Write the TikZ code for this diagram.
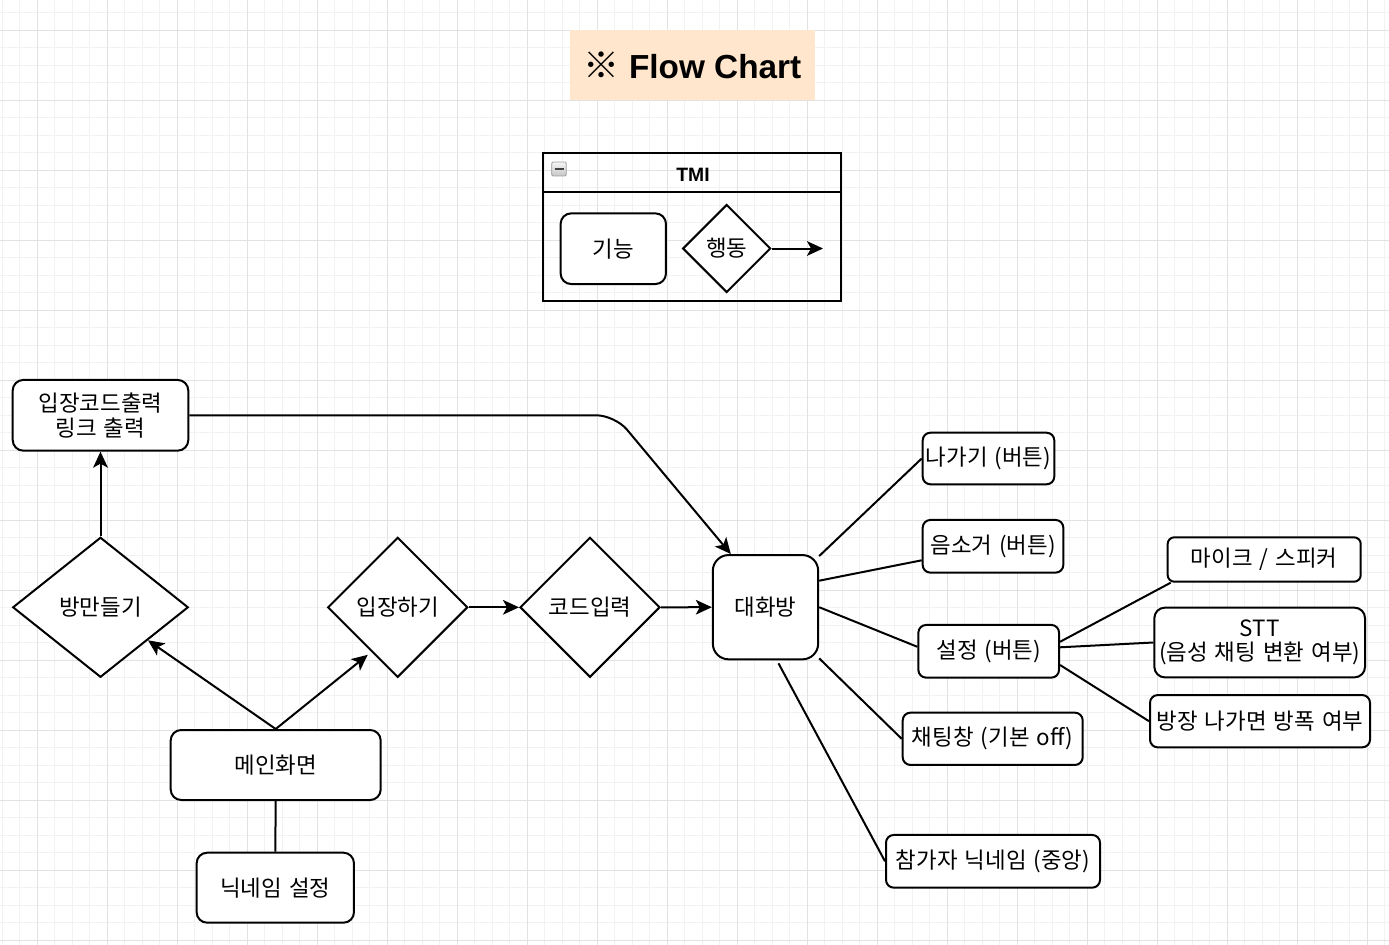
\documentclass[tikz,border=0pt]{standalone}
\usepackage{fontspec}
\setmainfont{Liberation Sans}
\newfontfamily\kr[WordSpace=1.4]{Noto Sans CJK KR}
\usetikzlibrary{shapes.geometric,arrows.meta,calc}
\definecolor{gridminor}{HTML}{F2F2F2}
\definecolor{gridmajor}{HTML}{E2E2E2}
\definecolor{titlefill}{HTML}{FFE6CC}
\begin{document}
\begin{tikzpicture}[x=0.75pt,y=-0.75pt,
  txt/.style={font=\kr\fontsize{16.8pt}{18.5pt}\selectfont, align=center},
  box/.style={txt, draw=black, line width=1.5pt, fill=white, rounded corners=#1, inner sep=0pt},
  box/.default=7.9pt,
  dia/.style={txt, draw=black, line width=1.5pt, fill=white, shape=diamond, inner sep=0pt},
  conn/.style={draw=black, line width=1.5pt},
  arr/.style={conn, -{Stealth[length=12pt,width=11pt,inset=3pt]}}
]
% background and grid
\fill[white] (0,0) rectangle (1389,945);
\useasboundingbox (0,0) rectangle (1389,945);
\foreach \x in {2,19.5,...,1389} \draw[gridminor, line width=0.75pt] (\x,0) -- (\x,945);
\foreach \y in {12.8,30.3,...,945} \draw[gridminor, line width=0.75pt] (0,\y) -- (1389,\y);
\foreach \x in {37,107,...,1389} \draw[gridmajor, line width=0.75pt] (\x,0) -- (\x,945);
\foreach \y in {30.3,100.3,...,945} \draw[gridmajor, line width=0.75pt] (0,\y) -- (1389,\y);

% title
\node[fill=titlefill, minimum width=183.75pt, minimum height=52.5pt, inner sep=0pt,
      font=\bfseries\fontsize{25pt}{30pt}\selectfont] (title) at (692.5,65) {{\kr\mdseries\fontsize{27pt}{30pt}\selectfont ※}\ Flow Chart};

% legend
\node[draw=black, line width=1.5pt, minimum width=223.5pt, minimum height=111pt, inner sep=0pt] (tmi) at (692,227) {};
\draw[conn] ($(tmi.north west)+(0,40)$) -- ($(tmi.north east)+(0,40)$);
\node[font=\bfseries\fontsize{14.5pt}{17pt}\selectfont] (tmitxt) at (693,175) {TMI};
\node[draw=gray!75, line width=0.6pt, rounded corners=1pt, minimum width=11pt, minimum height=10.5pt, inner sep=0pt,
      top color=gray!8, bottom color=gray!45] (ic) at (559,169) {};
\draw[black!75, line width=1.6pt] ($(ic.center)+(-4.5,0)$) -- ($(ic.center)+(4.5,0)$);
\node[box, minimum width=79pt, minimum height=53pt] (fn) at (613.3,248.7) {기능};
\node[dia, minimum width=66pt, minimum height=66pt] (act) at (726.7,248.5) {행동};
\coordinate (actend) at (823,248.5);
\draw[arr] (act.east) -- (actend);

% left part
\node[box, minimum width=131.7pt, minimum height=53pt] (out) at (100.5,415.3) {입장코드출력\\링크 출력};
\node[dia, minimum width=131.7pt, minimum height=105pt] (make) at (100.5,607.3) {방만들기};
\node[dia, minimum width=105pt, minimum height=105pt] (enter) at (397.7,607.3) {입장하기};
\node[dia, minimum width=105pt, minimum height=105pt] (code) at (590,607.3) {코드입력};
\node[box=11.8pt, minimum width=79pt, minimum height=78.2pt] (room) at (765.5,607.2) {대화방};
\node[box, minimum width=157.5pt, minimum height=52.5pt] (main) at (275.7,765) {메인화면};
\node[box, minimum width=118pt, minimum height=52.5pt] (nick) at (275.3,887.7) {닉네임 설정};

% right part
\node[box=5.8pt, minimum width=98.7pt, minimum height=38.7pt] (exit) at (988.5,458.5) {나가기 (버튼)};
\node[box=5.8pt, minimum width=105.5pt, minimum height=39.5pt] (mute) at (993,546.3) {음소거 (버튼)};
\node[box=5.8pt, minimum width=105.5pt, minimum height=39.5pt] (set) at (988.7,651.3) {설정 (버튼)};
\node[box=5.8pt, minimum width=135pt, minimum height=39.2pt] (chat) at (992.7,738.8) {채팅창 (기본 off)};
\node[box=5.8pt, minimum width=160.5pt, minimum height=39.5pt] (part) at (993,861.3) {참가자 닉네임 (중앙)};
\node[box=5pt, minimum width=144.8pt, minimum height=33.3pt] (mic) at (1264.2,559.5) {마이크 / 스피커};
\node[box, minimum width=158pt, minimum height=52.3pt] (stt) at (1259.7,642.5) {STT\\(음성 채팅 변환 여부)};
\node[box=5.8pt, minimum width=165pt, minimum height=39.2pt] (boom) at (1260,721.2) {방장 나가면 방폭 여부};

% connectors
\draw[arr] (make.north) -- (out.south);
\draw[arr] (main.north) -- (make);
\draw[arr] (main.north) -- ($(enter.south west)+(5.6,12)$);
\draw[conn] (main.south) -- (nick.north);
\draw[arr] (enter.east) -- (code.west);
\draw[arr] (code.east) -- (room.west);
\draw[arr, rounded corners=14pt] (out.east) -- ++(425.7,0) -- ($(room.north west)+(19,0)$);
\draw[conn] ($(room.north east)+(0,2)$) -- (exit.west);
\draw[conn] ($(room.east)+(0,-26.5)$) -- ($(mute.west)+(0,14)$);
\draw[conn] (room.east) -- ($(set.west)+(0,-4.5)$);
\draw[conn] ($(room.south east)+(0,-2)$) -- (chat.west);
\draw[conn] ($(room.south)+(13,3)$) -- (part.west);
\draw[conn] ($(set.east)+(0,-9.5)$) -- ($(mic.south west)+(4,0)$);
\draw[conn] ($(set.east)+(0,-4)$) -- (stt.west);
\draw[conn] ($(set.east)+(0,13.7)$) -- (boom.west);
\end{tikzpicture}
\end{document}
